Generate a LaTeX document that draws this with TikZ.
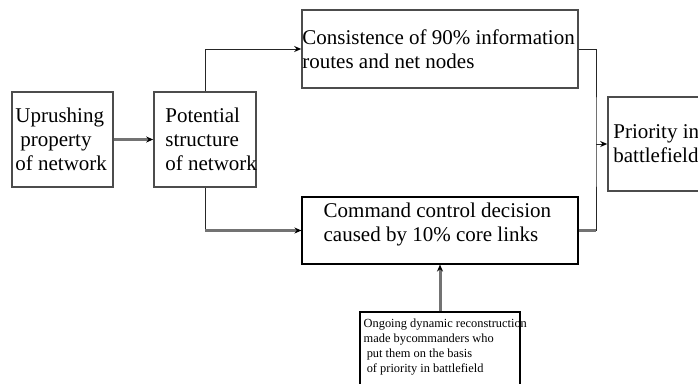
\documentclass[tikz,border=0pt]{standalone}
\usepackage{fontspec}
\setmainfont{Liberation Serif}
\usetikzlibrary{arrows.meta}

\begin{document}
\begin{tikzpicture}[x=1pt, y=-1pt,
    box/.style={rectangle, draw=black!70, line width=1.6pt, inner sep=0pt},
    note/.style={rectangle, draw=black, line width=1.1pt, inner sep=0pt},
    txt/.style={anchor=west, inner sep=0pt, align=left,
        font=\fontsize{21}{24}\selectfont},
    small/.style={anchor=west, inner sep=0pt, align=left,
        font=\fontsize{12.4}{15}\selectfont},
    link/.style={black!85, line width=1pt},
    wide/.style={black!55, line width=3pt},
    tip/.style={-{Stealth[length=7pt, width=6pt, black]}}
]
    \clip (0,0) rectangle (698,383);
    \node[box, minimum width=101pt, minimum height=95pt,
        label={[txt, xshift=4pt]west:Uprushing\\\hspace{5pt}property\\of network}]
        (up) at (62.5,139.5) {};
    \node[box, minimum width=102pt, minimum height=95pt,
        label={[txt, xshift=12pt]west:Potential\\structure\\of network}]
        (pot) at (205,139.5) {};
    \node[box, minimum width=276pt, minimum height=78pt,
        label={[txt, xshift=1pt]west:Consistence of 90\% information\\routes and net nodes}]
        (cons) at (440,49) {};
    \node[note, minimum width=276pt, minimum height=67pt,
        label={[txt, xshift=22pt, yshift=6pt]west:Command control decision\\caused by 10\% core links}]
        (cmd) at (440,230.5) {};
    \node[box, minimum width=120pt, minimum height=94pt,
        label={[txt, xshift=6pt]west:Priority in\\battlefield}]
        (prio) at (668,144) {};
    \node[note, minimum width=160pt, minimum height=80pt,
        label={[small, xshift=4pt, yshift=4.5pt]west:Ongoing dynamic reconstruction\\made bycommanders who\\\ put them on the basis\\\ of priority in battlefield}]
        (ongo) at (440,352) {};

    \coordinate (turn) at (pot.south |- cmd.west);
    \coordinate (bus) at (596,144);

    \draw[wide, tip] (up) -- (pot);
    \draw[link, tip] (pot.north) |- (cons.west);
    \draw[link] (pot.south) -- (turn);
    \draw[wide, tip] (turn) -- (cmd.west);
    \draw[link] (cons.east) -| (bus) |- (cmd.east);
    \draw[wide] (cmd.east) -- (cmd.east -| bus);
    \draw[link, tip] (bus) -- (prio.west);
    \draw[wide, tip] (ongo.north) -- (cmd.south);
\end{tikzpicture}
\end{document}
